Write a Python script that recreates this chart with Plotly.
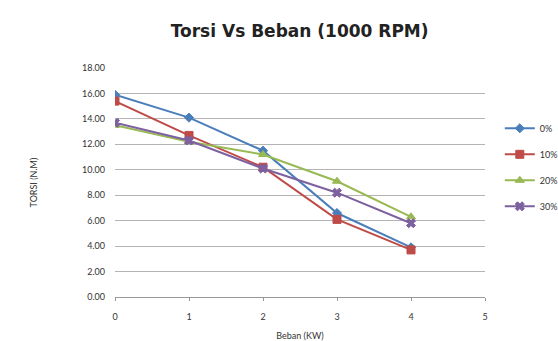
import plotly.graph_objects as go

beban = [0, 1, 2, 3, 4]
series_names = ["0%", "10%", "20%", "30%"]
s0 = [15.9, 14.1, 11.5, 6.6, 3.9]
s10 = [15.4, 12.7, 10.2, 6.1, 3.7]
s20 = [13.5, 12.2, 11.2, 9.1, 6.3]
s30 = [13.7, 12.3, 10.1, 8.2, 5.8]
y_ticks = [0, 2, 4, 6, 8, 10, 12, 14, 16, 18]
x_ticks = [0, 1, 2, 3, 4, 5]

colors = ["#4a7ebb", "#be4b48", "#98b954", "#7d60a0"]
symbols = ["diamond", "square", "triangle-up", "x"]
sizes = [7, 8, 8, 8]

fig = go.Figure()
for i, (name, vals) in enumerate(zip(series_names, [s0, s10, s20, s30])):
    fig.add_trace(go.Scatter(
        x=beban, y=vals, name=name, mode="lines+markers",
        legendgroup="g%d" % i,
        line=dict(color=colors[i], width=2),
        marker=dict(symbol=symbols[i], size=sizes[i], color=colors[i],
                    line=dict(width=1, color=colors[i])),
    ))

fig.update_layout(
    width=558, height=341,
    margin=dict(l=115, r=73, t=68, b=44, autoexpand=False),
    paper_bgcolor="white", plot_bgcolor="white",
    font=dict(family="Lato, Liberation Sans, sans-serif", size=9, color="#333"),
    title=dict(text="<b>Torsi Vs Beban (1000 RPM)</b>", x=0.537, xanchor="center",
               y=0.91, yanchor="middle",
               font=dict(family="DejaVu Sans, sans-serif", size=17, color="#222")),
    legend=dict(x=1.04, y=0.80, xanchor="left", yanchor="top",
                font=dict(size=9), tracegroupgap=7, itemwidth=30,
                bgcolor="rgba(0,0,0,0)"),
    xaxis=dict(range=[0, 5], tickvals=x_ticks, ticktext=[str(v) for v in x_ticks],
               showgrid=False, zeroline=False, showline=True, linecolor="#999",
               ticks="outside", ticklen=3, tickcolor="#999", ticklabelstandoff=8,
               title=dict(text="Beban (KW)", standoff=11, font=dict(size=9))),
    yaxis=dict(range=[0, 18], tickvals=y_ticks,
               ticktext=["%.2f" % v for v in y_ticks],
               showgrid=True, gridcolor="#b4b4b4", gridwidth=1,
               zeroline=False, showline=False, ticks="", ticklabelstandoff=9,
               title=dict(text="TORSI (N.M)", standoff=42, font=dict(size=9))),
)

fig.write_html("out.html")
